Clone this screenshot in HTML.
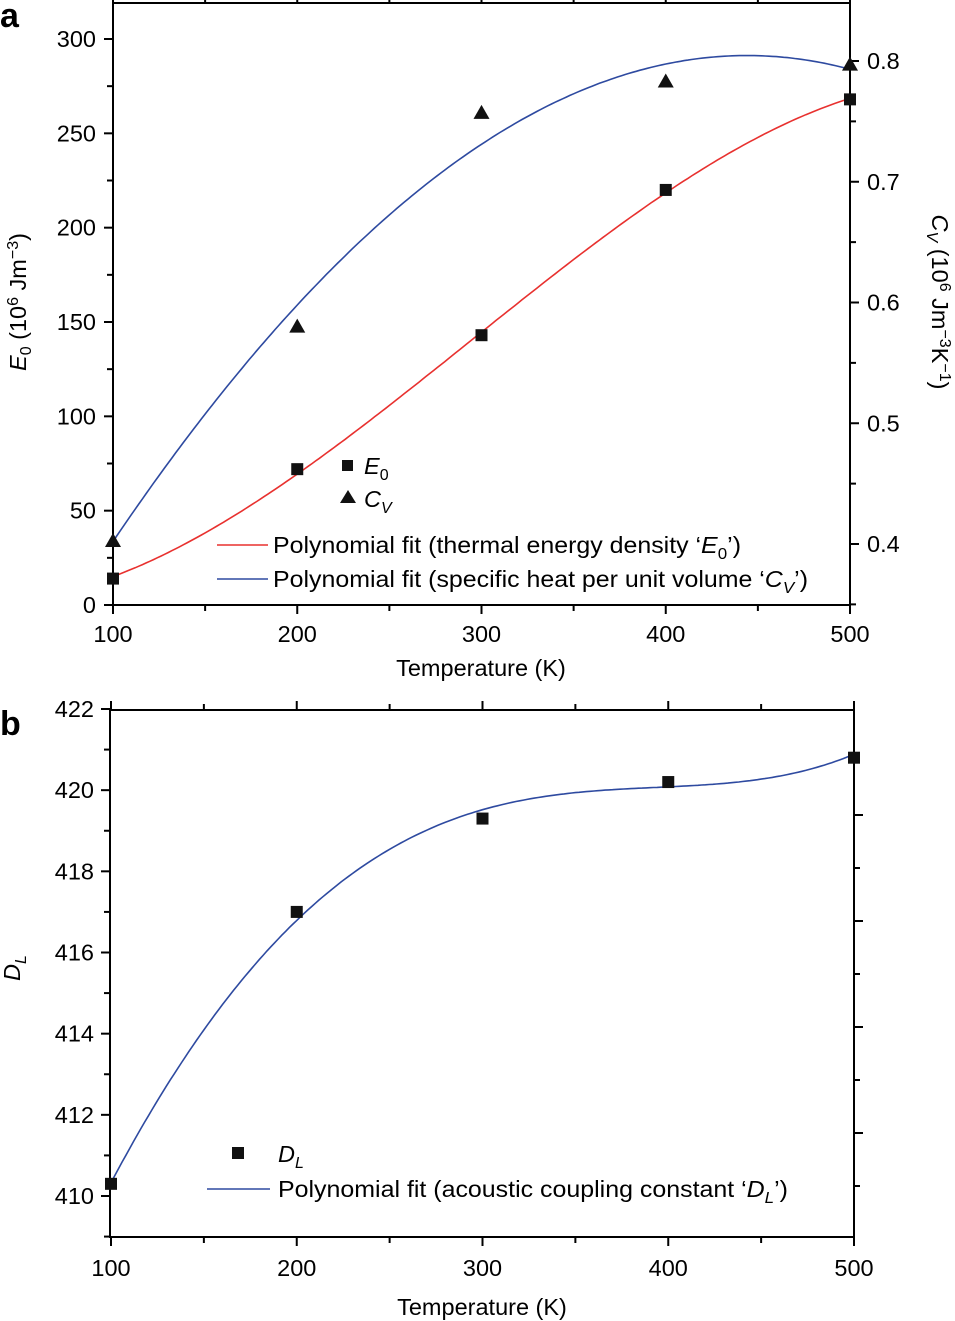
<!DOCTYPE html>
<html><head><meta charset="utf-8"><style>
html,body{margin:0;padding:0;background:#fff;}
svg{display:block;font-family:"Liberation Sans",Arial,sans-serif;}
</style></head><body>
<svg id="chart" width="955" height="1321" viewBox="0 0 955 1321">
<text x="0" y="27" font-size="34" font-weight="bold">a</text>
<text x="0" y="735" font-size="34" font-weight="bold">b</text>
<g id="ga"></g><g id="gb"></g>
</svg>
<script>
// Panel a data
const tempsA = [100, 200, 300, 400, 500];
const e0Values = [14, 72, 143, 220, 268];
const cvValues = [0.4025, 0.58, 0.757, 0.783, 0.797];
const fitTemps = [100, 150, 200, 250, 300, 350, 400, 450, 500];
const e0Fit = [14, 40, 70, 105, 143, 183, 220, 248, 268];
const cvFit = [0.403, 0.505, 0.6, 0.672, 0.732, 0.772, 0.797, 0.805, 0.793];
const xTicksA = [100, 200, 300, 400, 500];
const yTicksLeftA = [0, 50, 100, 150, 200, 250, 300];
const yTicksRightA = [0.4, 0.5, 0.6, 0.7, 0.8];
// Panel b data
const tempsB = [100, 200, 300, 400, 500];
const dlValues = [410.3, 417.0, 419.3, 420.2, 420.8];
const dlFit = [410.4, 413.85, 417.0, 418.6, 419.45, 419.85, 420.1, 420.35, 420.85];
const xTicksB = [100, 200, 300, 400, 500];
const yTicksB = [410, 412, 414, 416, 418, 420, 422];

const NS = "http://www.w3.org/2000/svg";
const FS = 23.5;
function mk(parent, tag, attrs, text) {
  const e = document.createElementNS(NS, tag);
  for (const k in attrs) e.setAttribute(k, attrs[k]);
  if (text !== undefined) e.textContent = text;
  parent.appendChild(e);
  return e;
}
// least-squares polynomial fit through sampled fit values, returns evaluator
function polyFit(xs, ys, deg) {
  const n = deg + 1;
  const xn = xs.map(x => (x - 300) / 200);
  const A = [], b = [];
  for (let i = 0; i < n; i++) {
    A.push(new Array(n).fill(0)); b.push(0);
    for (let k = 0; k < xs.length; k++) {
      for (let j = 0; j < n; j++) A[i][j] += Math.pow(xn[k], i + j);
      b[i] += ys[k] * Math.pow(xn[k], i);
    }
  }
  for (let i = 0; i < n; i++) {
    let p = i;
    for (let r = i + 1; r < n; r++) if (Math.abs(A[r][i]) > Math.abs(A[p][i])) p = r;
    [A[i], A[p]] = [A[p], A[i]]; [b[i], b[p]] = [b[p], b[i]];
    for (let r = 0; r < n; r++) if (r !== i) {
      const f = A[r][i] / A[i][i];
      for (let c = i; c < n; c++) A[r][c] -= f * A[i][c];
      b[r] -= f * b[i];
    }
  }
  const coef = b.map((v, i) => v / A[i][i]);
  return x => { const t = (x - 300) / 200; let s = 0; for (let i = n - 1; i >= 0; i--) s = s * t + coef[i]; return s; };
}
function curvePath(f, xf, yf) {
  let d = "";
  for (let t = 100; t <= 500.001; t += 2) d += (d ? " L" : "M") + xf(t).toFixed(1) + "," + yf(f(t)).toFixed(1);
  return d;
}

// ---------- Panel A ----------
const ga = document.getElementById("ga");
const aL = 113, aR = 850, aT = 3, aB = 605;
const xA = v => aL + (v - 100) / 400 * (aR - aL);
const yAL = v => 605 - v / 300 * 566;
const yAR = v => 544 - (v - 0.4) / 0.4 * 483;

let e = mk(ga, "rect", {x: aL, y: aT, width: aR - aL, height: aB - aT, fill: "none", stroke: "#000", "stroke-width": 2});


for (let v = 100; v <= 500; v += 50) {
  const major = v % 100 === 0;
  const t = mk(ga, "line", {x1: xA(v), x2: xA(v), y1: aB, y2: aB + (major ? 9 : 6), stroke: "#000", "stroke-width": 2});
  
  
  const t2 = mk(ga, "line", {x1: xA(v), x2: xA(v), y1: aT, y2: aT - (major ? 9 : 6), stroke: "#000", "stroke-width": 2});
  
  
}
xTicksA.forEach(v => {
  const t = mk(ga, "text", {x: xA(v), y: 642, "font-size": FS, "text-anchor": "middle"}, v);
  
  
});
for (let v = 0; v <= 300; v += 25) {
  const major = v % 50 === 0;
  const t = mk(ga, "line", {x1: aL, x2: aL - (major ? 9 : 6), y1: yAL(v), y2: yAL(v), stroke: "#000", "stroke-width": 2});
  
  
}
yTicksLeftA.forEach(v => {
  const t = mk(ga, "text", {x: 96, y: yAL(v) + 8, "font-size": FS, "text-anchor": "end"}, v);
  
  
});
for (let v = 0.35; v <= 0.851; v += 0.05) {
  const major = Math.abs(Math.round(v * 10) - v * 10) < 0.01;
  const y = yAR(v);
  if (y < aT || y > aB) continue;
  const t = mk(ga, "line", {x1: aR, x2: aR + (major ? 9 : 6), y1: y, y2: y, stroke: "#000", "stroke-width": 2});
  
  
}
yTicksRightA.forEach(v => {
  const t = mk(ga, "text", {x: 867, y: yAR(v) + 8, "font-size": FS}, v.toFixed(1));
  
  
});
e = mk(ga, "text", {x: 481, y: 676, "font-size": FS, "text-anchor": "middle"}, "Temperature (K)");


e = mk(ga, "text", {transform: "translate(26,302) rotate(-90)", "font-size": FS, "text-anchor": "middle"});
e.innerHTML = '<tspan font-style="italic">E</tspan><tspan font-size="16" dy="5">0</tspan><tspan dy="-5"> (10</tspan><tspan font-size="16" dy="-8">6</tspan><tspan dy="8"> Jm</tspan><tspan font-size="16" dy="-8">−3</tspan><tspan dy="8">)</tspan>';


e = mk(ga, "text", {transform: "translate(932,302) rotate(90)", "font-size": FS, "text-anchor": "middle"});
e.innerHTML = '<tspan font-style="italic">C</tspan><tspan font-size="16" font-style="italic" dy="5">V</tspan><tspan dy="-5"> (10</tspan><tspan font-size="16" dy="-8">6</tspan><tspan dy="8"> Jm</tspan><tspan font-size="16" dy="-8">−3</tspan><tspan dy="8">K</tspan><tspan font-size="16" dy="-8">−1</tspan><tspan dy="8">)</tspan>';



const fE0 = polyFit(fitTemps, e0Fit, 3);
const fCv = polyFit(fitTemps, cvFit, 3);
e = mk(ga, "path", {d: curvePath(fE0, xA, yAL), fill: "none", stroke: "#e8312f", "stroke-width": 1.6});


e = mk(ga, "path", {d: curvePath(fCv, xA, yAR), fill: "none", stroke: "#2e4aa0", "stroke-width": 1.6});


tempsA.forEach((t, i) => {
  const s = mk(ga, "rect", {x: xA(t) - 6, y: yAL(e0Values[i]) - 6, width: 12, height: 12, fill: "#111"});
  
  
  const cx = xA(t), cy = yAR(cvValues[i]);
  const p = mk(ga, "polygon", {points: `${cx},${cy - 8} ${cx - 8},${cy + 6} ${cx + 8},${cy + 6}`, fill: "#111"});
  
  
});
// legend a
e = mk(ga, "rect", {x: 342, y: 460, width: 11, height: 11, fill: "#111"});
 
e = mk(ga, "text", {x: 364, y: 474, "font-size": FS});
e.innerHTML = '<tspan font-style="italic">E</tspan><tspan font-size="16" dy="6">0</tspan>';
 
e = mk(ga, "polygon", {points: "348,490 340,503 356,503", fill: "#111"});
 
e = mk(ga, "text", {x: 364, y: 507, "font-size": FS});
e.innerHTML = '<tspan font-style="italic">C</tspan><tspan font-size="16" font-style="italic" dy="6">V</tspan>';
 
e = mk(ga, "line", {x1: 217, x2: 268, y1: 545, y2: 545, stroke: "#e8312f", "stroke-width": 1.6});
 
e = mk(ga, "text", {x: 273, y: 553, "font-size": FS, textLength: 468, lengthAdjust: "spacingAndGlyphs"});
e.innerHTML = 'Polynomial fit (thermal energy density ‘<tspan font-style="italic">E</tspan><tspan font-size="16" dy="6">0</tspan><tspan dy="-6">’)</tspan>';
 
e = mk(ga, "line", {x1: 217, x2: 268, y1: 579, y2: 579, stroke: "#2e4aa0", "stroke-width": 1.6});
 
e = mk(ga, "text", {x: 273, y: 587, "font-size": FS, textLength: 535, lengthAdjust: "spacingAndGlyphs"});
e.innerHTML = 'Polynomial fit (specific heat per unit volume ‘<tspan font-style="italic">C</tspan><tspan font-size="16" font-style="italic" dy="6">V</tspan><tspan dy="-6">’)</tspan>';
 

// ---------- Panel B ----------
const gb = document.getElementById("gb");
const bL = 110, bR = 854, bT = 710, bB = 1237;
const xB = v => 111 + (v - 100) / 400 * 743;
const yB = v => 1196 - (v - 410) / 12 * 487;
e = mk(gb, "rect", {x: bL, y: bT, width: bR - bL, height: bB - bT, fill: "none", stroke: "#000", "stroke-width": 2});
 
for (let v = 100; v <= 500; v += 50) {
  const major = v % 100 === 0;
  const t = mk(gb, "line", {x1: xB(v), x2: xB(v), y1: bB, y2: bB + (major ? 9 : 6), stroke: "#000", "stroke-width": 2});
   
  const t2 = mk(gb, "line", {x1: xB(v), x2: xB(v), y1: bT, y2: bT - (major ? 9 : 6), stroke: "#000", "stroke-width": 2});
   
}
xTicksB.forEach(v => {
  const t = mk(gb, "text", {x: xB(v), y: 1276, "font-size": FS, "text-anchor": "middle"}, v);
   
});
for (let v = 409; v <= 422; v += 1) {
  const y = yB(v);
  if (y > bB) continue;
  const major = v % 2 === 0;
  const t = mk(gb, "line", {x1: bL, x2: bL - (major ? 9 : 6), y1: y, y2: y, stroke: "#000", "stroke-width": 2});
   
}
yTicksB.forEach(v => {
  const t = mk(gb, "text", {x: 94, y: yB(v) + 8, "font-size": FS, "text-anchor": "end"}, v);
   
});
for (let y = 762; y <= 1237; y += 53) {
  const major = ((y - 762) / 53) % 2 === 1;
  const t = mk(gb, "line", {x1: bR, x2: bR + (major ? 9 : 6), y1: y, y2: y, stroke: "#000", "stroke-width": 2});
   
}
e = mk(gb, "text", {x: 482, y: 1315, "font-size": FS, "text-anchor": "middle"}, "Temperature (K)");
 
e = mk(gb, "text", {transform: "translate(20,968) rotate(-90)", "font-size": FS, "text-anchor": "middle"});
e.innerHTML = '<tspan font-style="italic">D</tspan><tspan font-size="16" font-style="italic" dy="6">L</tspan>';
 
const fDl = polyFit(fitTemps, dlFit, 4);
e = mk(gb, "path", {d: curvePath(fDl, xB, yB), fill: "none", stroke: "#2e4aa0", "stroke-width": 1.6});
 
tempsB.forEach((t, i) => {
  const s = mk(gb, "rect", {x: xB(t) - 6, y: yB(dlValues[i]) - 6, width: 12, height: 12, fill: "#111"});
   
});
e = mk(gb, "rect", {x: 232, y: 1147, width: 12, height: 12, fill: "#111"});
 
e = mk(gb, "text", {x: 278, y: 1162, "font-size": FS});
e.innerHTML = '<tspan font-style="italic">D</tspan><tspan font-size="16" font-style="italic" dy="6">L</tspan>';
 
e = mk(gb, "line", {x1: 207, x2: 270, y1: 1189, y2: 1189, stroke: "#2e4aa0", "stroke-width": 1.6});
 
e = mk(gb, "text", {x: 278, y: 1197, "font-size": FS, textLength: 510, lengthAdjust: "spacingAndGlyphs"});
e.innerHTML = 'Polynomial fit (acoustic coupling constant ‘<tspan font-style="italic">D</tspan><tspan font-size="16" font-style="italic" dy="6">L</tspan><tspan dy="-6">’)</tspan>';
 
</script>
</body></html>
